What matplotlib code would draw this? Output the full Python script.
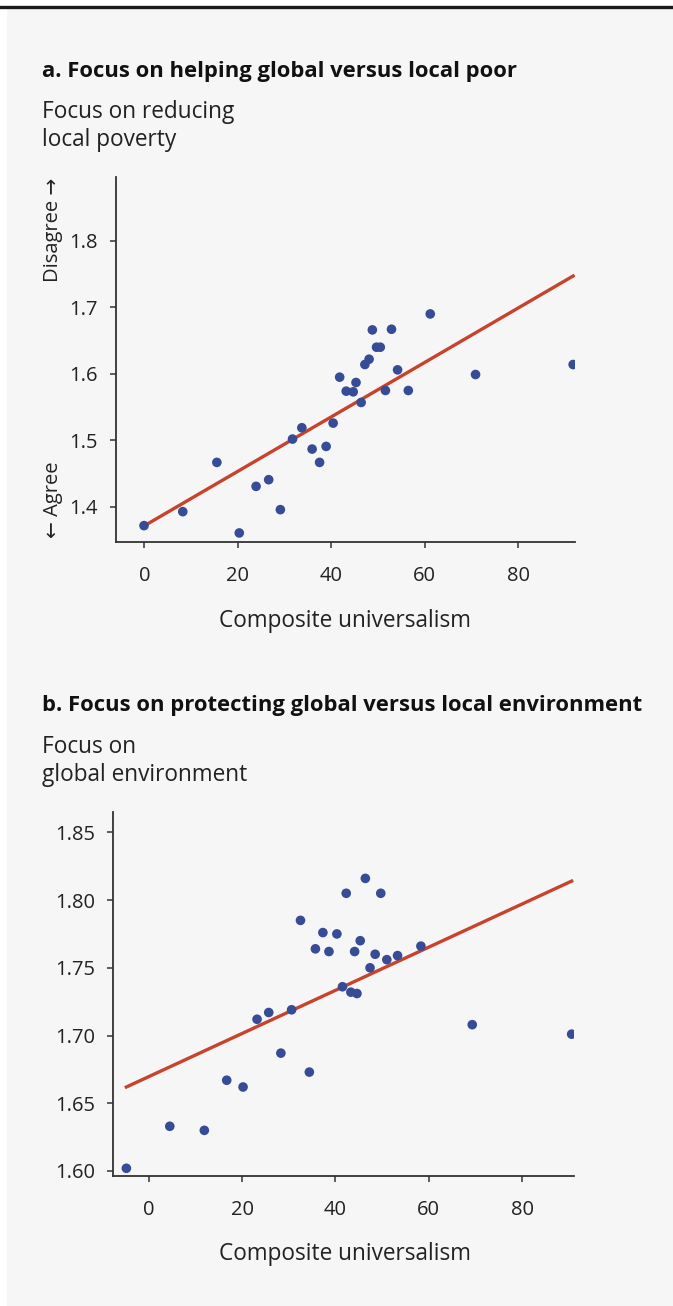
import numpy as np
import matplotlib
matplotlib.use('Agg')
import matplotlib.pyplot as plt
from matplotlib.patches import Rectangle
from matplotlib.lines import Line2D

plt.rcParams['font.family'] = ['Open Sans', 'DejaVu Sans']

# panel a: helping global vs local poor
univ_a = [-0.1, 8.2, 15.5, 20.3, 23.9, 26.6, 29.1, 31.7, 33.7, 35.9, 37.5, 38.9,
          40.4, 41.8, 43.2, 44.7, 45.3, 46.4, 47.2, 48.1, 48.8, 49.7, 50.5, 51.6,
          52.9, 54.2, 56.5, 61.2, 70.9, 91.8]
poor_a = [1.372, 1.393, 1.467, 1.361, 1.431, 1.441, 1.396, 1.502, 1.519, 1.487,
          1.467, 1.491, 1.526, 1.595, 1.574, 1.573, 1.587, 1.557, 1.614, 1.622,
          1.666, 1.640, 1.640, 1.575, 1.667, 1.606, 1.575, 1.690, 1.599, 1.614]
fit_a_x = [-0.1, 91.8]
fit_a_y = [1.3715, 1.747]

# panel b: protecting global vs local environment
univ_b = [-4.8, 4.5, 11.9, 16.7, 20.2, 23.2, 25.7, 28.3, 30.6, 32.5, 34.4, 35.7,
          37.3, 38.6, 40.3, 41.5, 42.3, 43.3, 44.1, 44.6, 45.3, 46.4, 47.4, 48.5,
          49.7, 51.0, 53.3, 58.3, 69.3, 90.6]
env_b = [1.602, 1.633, 1.630, 1.667, 1.662, 1.712, 1.717, 1.687, 1.719, 1.785,
         1.673, 1.764, 1.776, 1.762, 1.775, 1.736, 1.805, 1.732, 1.762, 1.731,
         1.770, 1.816, 1.750, 1.760, 1.805, 1.756, 1.759, 1.766, 1.708, 1.701]
fit_b_x = [-4.8, 90.6]
fit_b_y = [1.662, 1.814]

x_ticks = [0, 20, 40, 60, 80]
y_ticks_a = [1.4, 1.5, 1.6, 1.7, 1.8]
y_ticks_b = [1.60, 1.65, 1.70, 1.75, 1.80, 1.85]

W, H = 673, 1306
dot = '#374c96'
red = '#c8432b'
ink = '#222222'

fig = plt.figure(figsize=(W / 100, H / 100), dpi=100, facecolor='white')

def fx(px):
    return px / W

def fy(py):
    return 1 - py / H

# background panel and top rule
fig.patches.append(Rectangle((fx(7), 0), 1 - fx(7), fy(8), transform=fig.transFigure,
                             facecolor='#f6f6f6', edgecolor='none', zorder=-10))
fig.lines.append(Line2D([0, 1], [fy(6.5), fy(6.5)], transform=fig.transFigure,
                        color='#1a1a1a', lw=2.4, zorder=-5))


def style(ax, yticks, fmt):
    ax.set_facecolor('none')
    for s in ['top', 'right']:
        ax.spines[s].set_visible(False)
    for s in ['left', 'bottom']:
        ax.spines[s].set_color('#333333')
        ax.spines[s].set_linewidth(1.3)
    ax.set_xticks(x_ticks)
    ax.set_yticks(yticks)
    ax.set_yticklabels([fmt.format(v) for v in yticks])
    ax.tick_params(axis='both', colors='#333333', labelcolor=ink, labelsize=14.5,
                   length=4, width=1.1)
    ax.tick_params(axis='x', pad=13)
    ax.tick_params(axis='y', pad=9)


# panel a
ax1 = fig.add_axes([fx(116), fy(542), fx(575) - fx(116), fy(177) - fy(542)])
ax1.plot(fit_a_x, fit_a_y, color=red, lw=2.4, zorder=2)
ax1.scatter(univ_a, poor_a, s=48, color=dot, edgecolors='none', zorder=3)
ax1.set_xlim(-6.1, 92.2)
ax1.set_ylim(1.3474, 1.8957)
style(ax1, y_ticks_a, '{:.1f}')

fig.text(fx(42), fy(71), 'a. Focus on helping global versus local poor',
         fontsize=15.8, fontweight='bold', color='#111111', va='center', ha='left')
fig.text(fx(42), fy(112), 'Focus on reducing', fontsize=16.3, color=ink, va='center')
fig.text(fx(42), fy(140), 'local poverty', fontsize=16.3, color=ink, va='center')
fig.text(fx(53), fy(230), 'Disagree \u2192', rotation=90, fontsize=14.5, color=ink,
         va='center', ha='center')
fig.text(fx(53), fy(500), '\u2190 Agree', rotation=90, fontsize=14.5, color=ink,
         va='center', ha='center')
fig.text(fx(345), fy(621), 'Composite universalism', fontsize=16.3, color=ink,
         va='center', ha='center')

# panel b
ax2 = fig.add_axes([fx(113.3), fy(1176), fx(574) - fx(113.3), fy(812) - fy(1176)])
ax2.plot(fit_b_x, fit_b_y, color=red, lw=2.4, zorder=2)
ax2.scatter(univ_b, env_b, s=48, color=dot, edgecolors='none', zorder=3)
ax2.set_xlim(-7.6, 91.1)
ax2.set_ylim(1.5963, 1.865)
style(ax2, y_ticks_b, '{:.2f}')

fig.text(fx(42), fy(705), 'b. Focus on protecting global versus local environment',
         fontsize=15.8, fontweight='bold', color='#111111', va='center', ha='left')
fig.text(fx(42), fy(747), 'Focus on', fontsize=16.3, color=ink, va='center')
fig.text(fx(42), fy(775), 'global environment', fontsize=16.3, color=ink, va='center')
fig.text(fx(345), fy(1254), 'Composite universalism', fontsize=16.3, color=ink,
         va='center', ha='center')

fig.savefig('out.png', dpi=100, facecolor=fig.get_facecolor())
